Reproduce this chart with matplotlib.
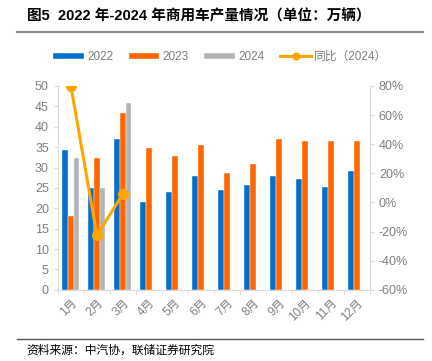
import numpy as np
import matplotlib.pyplot as plt

plt.rcParams['font.family'] = ['Liberation Sans', 'Noto Sans CJK SC', 'DejaVu Sans']

months = ['1月', '2月', '3月', '4月', '5月', '6月', '7月', '8月', '9月', '10月', '11月', '12月']
v2022 = [34.3, 24.9, 36.9, 21.5, 23.9, 28.0, 24.5, 25.7, 27.9, 27.3, 25.3, 29.1]
v2023 = [18.0, 32.3, 43.3, 34.7, 32.9, 35.4, 28.6, 30.9, 37.0, 36.5, 36.6, 36.4]
v2024 = [32.3, 24.9, 45.8]
yoy2024 = [80.0, -22.5, 5.8]  # %

c22 = '#0070CC'
c23 = '#FF6600'
c24 = '#B4B4B4'
cline = '#FFA500'
grey = '#7F7F7F'

fig = plt.figure(figsize=(4.32, 3.61), dpi=100)
ax = fig.add_axes([0.134, 0.197, 0.722, 0.565])
ax2 = ax.twinx()

x = np.arange(len(months))
w = 0.22
ax.bar(x - w, v2022, w, color=c22, label='2022', edgecolor='white', linewidth=0.3)
ax.bar(x, v2023, w, color=c23, label='2023', edgecolor='white', linewidth=0.3)
ax.bar(x[:len(v2024)] + w, v2024, w, color=c24, label='2024', edgecolor='white', linewidth=0.3)
ax2.plot(x[:len(yoy2024)], yoy2024, color=cline, lw=2.2, marker='o', ms=7, label='同比（2024）')

ax.set_xlim(-0.5, 11.5)
ax.set_ylim(0, 50)
ax.set_yticks(range(0, 51, 5))
ax2.set_ylim(-60, 80)
ax2.set_yticks(range(-60, 81, 20))
ax2.set_yticklabels([f'{t}%' for t in range(-60, 81, 20)])

ax.set_xticks(x)
ax.set_xticklabels(months, rotation=45, ha='right', rotation_mode='anchor')
ax.set_xticks(np.arange(-0.5, 12, 1), minor=True)
ax.tick_params(axis='x', which='major', length=0, pad=5)
ax.tick_params(axis='x', which='minor', length=3, color='#D9D9D9')

for a in (ax, ax2):
    a.tick_params(axis='y', labelsize=9, labelcolor=grey, length=3, color='#D9D9D9')
    a.tick_params(axis='x', labelsize=8.5, labelcolor=grey)
    a.spines['top'].set_visible(False)
    for s in ('left', 'right', 'bottom'):
        a.spines[s].set_color('#D9D9D9')
ax.spines['right'].set_visible(False)
ax2.spines['left'].set_visible(False)
ax2.spines['bottom'].set_visible(False)

h1, l1 = ax.get_legend_handles_labels()
h2, l2 = ax2.get_legend_handles_labels()
fig.legend(h1 + h2, l1 + l2, loc='center', bbox_to_anchor=(0.51, 0.842), ncol=4,
           frameon=False, fontsize=8.5, labelcolor=grey, handlelength=2.6,
           handleheight=0.4, columnspacing=1.3, handletextpad=0.3, markerscale=0.7)

fig.text(0.062, 0.955, '图5  2022 年-2024 年商用车产量情况（单位：万辆）',
         fontsize=10.5, fontweight='bold', va='center', ha='left')
fig.add_artist(plt.Line2D([0.04, 0.98], [0.91, 0.91], color='#8C8C8C', lw=1.5))
fig.add_artist(plt.Line2D([0.04, 0.98], [0.06, 0.06], color='#555555', lw=1.0))
fig.text(0.062, 0.03, '资料来源：中汽协，联储证券研究院', fontsize=8.5, va='center', ha='left')

fig.savefig('out.png', dpi=100)
